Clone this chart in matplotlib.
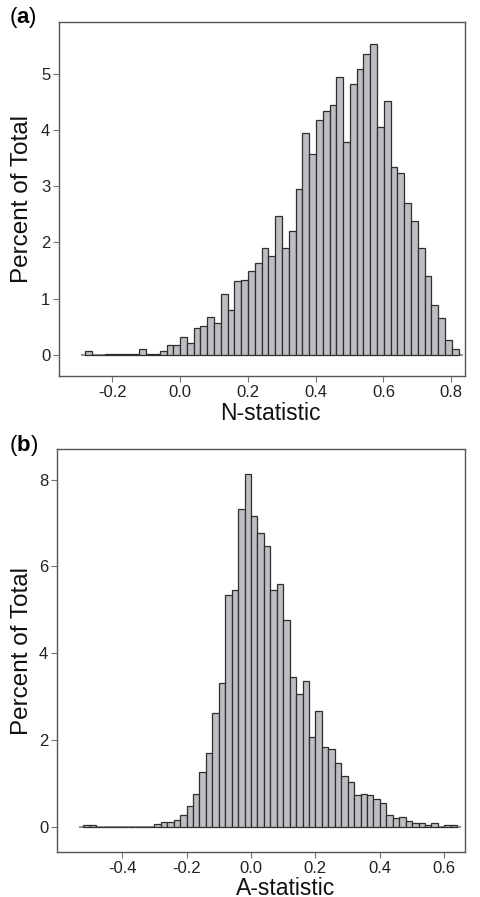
import numpy as np
import matplotlib
matplotlib.use("Agg")
from matplotlib import pyplot as plt

plt.rcParams['font.family'] = ['Liberation Sans', 'DejaVu Sans']
plt.rcParams['mathtext.fontset'] = 'custom'
plt.rcParams['mathtext.rm'] = 'Liberation Sans'
plt.rcParams['mathtext.bf'] = 'Liberation Sans:bold'

# panel (a): N-statistic, 55 equal bins between data min and max
n_range = (-0.281, 0.822)
n_pct = [0.06, 0.0, 0.0, 0.02, 0.02, 0.02, 0.02, 0.02, 0.11, 0.02,
         0.02, 0.06, 0.17, 0.17, 0.32, 0.20, 0.47, 0.52, 0.67, 0.56,
         1.08, 0.79, 1.31, 1.34, 1.49, 1.64, 1.90, 1.76, 2.48, 1.90,
         2.20, 2.95, 3.96, 3.57, 4.19, 4.34, 4.45, 4.95, 3.80, 4.83,
         5.10, 5.36, 5.54, 4.05, 4.52, 3.34, 3.24, 2.70, 2.38, 1.90,
         1.40, 0.88, 0.65, 0.26, 0.11]
n_xticks = [-0.2, 0.0, 0.2, 0.4, 0.6, 0.8]
n_yticks = [0, 1, 2, 3, 4, 5]

# panel (b): A-statistic, 58 equal bins
a_range = (-0.521, 0.641)
a_pct = [0.04, 0.04, 0.0, 0.0, 0.0, 0.0, 0.0, 0.0, 0.0, 0.0,
         0.0, 0.06, 0.12, 0.12, 0.15, 0.27, 0.48, 0.75, 1.25, 1.69,
         2.62, 3.32, 5.35, 5.46, 7.33, 8.12, 7.16, 6.78, 6.46, 5.46,
         5.59, 4.77, 3.44, 3.05, 3.35, 2.07, 2.67, 1.83, 1.80, 1.46,
         1.17, 1.02, 0.72, 0.75, 0.72, 0.64, 0.55, 0.27, 0.19, 0.23,
         0.13, 0.08, 0.08, 0.05, 0.08, 0.0, 0.05, 0.05]
a_xticks = [-0.4, -0.2, 0.0, 0.2, 0.4, 0.6]
a_yticks = [0, 2, 4, 6, 8]

W, H = 481, 897
fig = plt.figure(figsize=(W / 100, H / 100), dpi=100)


def px_axes(left, top, right, bottom):
    return fig.add_axes([left / W, 1 - bottom / H, (right - left) / W, (bottom - top) / H])


def draw_hist(ax, rng, pct, xticks, yticks, xlim, ylim, xlabel):
    edges = np.linspace(rng[0], rng[1], len(pct) + 1)
    width = edges[1] - edges[0]
    ax.hlines(0, rng[0] - 0.013, rng[1] + 0.013, color='#8a8a8a', lw=1.3, zorder=1)
    ax.bar(edges[:-1], pct, width=width, align='edge', color='#bdbdc2',
           edgecolor='#2e2e2e', linewidth=0.9, zorder=2)
    ax.set_xlim(*xlim)
    ax.set_ylim(*ylim)
    ax.set_xticks(xticks)
    ax.set_xticklabels(['%.1f' % t for t in xticks])
    ax.set_yticks(yticks)
    ax.set_yticklabels([str(t) for t in yticks])
    for s in ax.spines.values():
        s.set_color('#555555')
        s.set_linewidth(1.0)
    ax.tick_params(direction='out', length=4.3, width=0.8, color='#777777',
                   labelsize=12, labelcolor='#222222', pad=2.2)
    ax.set_xlabel(xlabel, fontsize=16.5, color='#111111')
    ax.set_ylabel('Percent of Total', fontsize=17.5, color='#111111')


ax1 = px_axes(59.3, 22.3, 465, 376)
draw_hist(ax1, n_range, n_pct, n_xticks, n_yticks, (-0.357, 0.841), (-0.38, 5.925), 'N-statistic')
ax1.xaxis.set_label_coords((270 - 59.3) / (465 - 59.3), -(402 - 376) / (376 - 22.3))
ax1.yaxis.set_label_coords(-(59.3 - 33) / (465 - 59.3), 0.5)
fig.text(9 / W, 1 - 18 / H, r'($\mathbf{a}$)', fontsize=16, va='center', ha='left')

ax2 = px_axes(57.3, 449.3, 465, 851.7)
draw_hist(ax2, a_range, a_pct, a_xticks, a_yticks, (-0.602, 0.665), (-0.576, 8.70), 'A-statistic')
ax2.xaxis.set_label_coords((286 - 57.3) / (465 - 57.3), -(877 - 851.7) / (851.7 - 449.3))
ax2.yaxis.set_label_coords(-(57.3 - 33) / (465 - 57.3), 0.5)
fig.text(9 / W, 1 - 445 / H, r'($\mathbf{b}$)', fontsize=16, va='center', ha='left')

fig.savefig('out.png', dpi=100)
